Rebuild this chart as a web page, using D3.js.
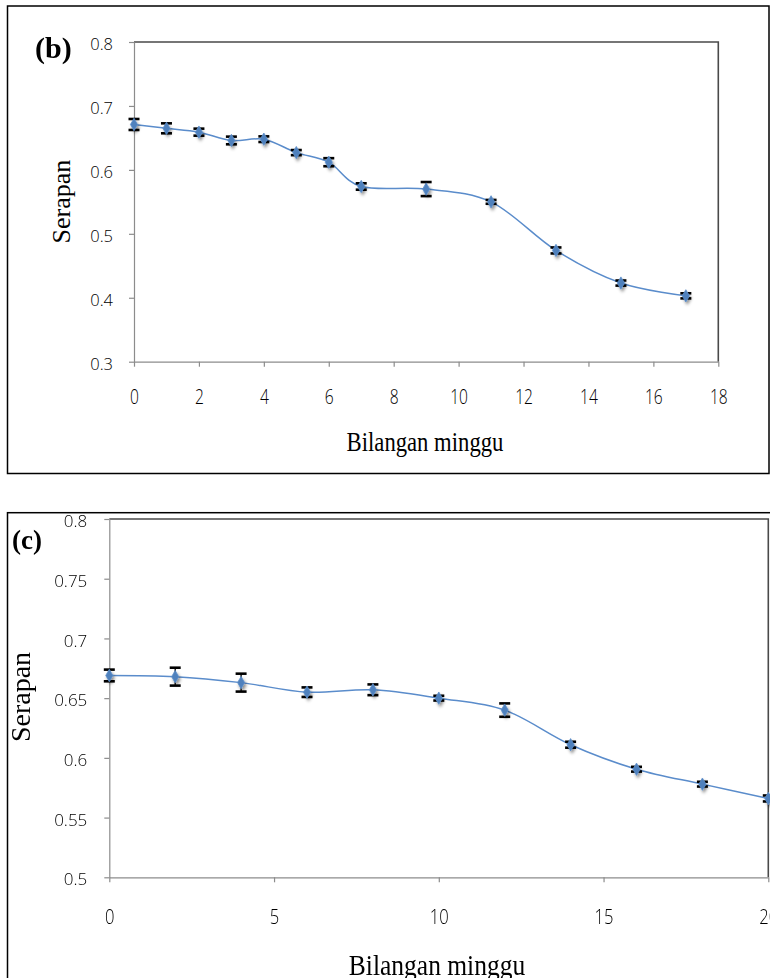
<!DOCTYPE html>
<html>
<head>
<meta charset="utf-8">
<script src="https://cdn.jsdelivr.net/npm/d3@7/dist/d3.min.js"></script>
<style>
  html, body { margin: 0; padding: 0; background: #fff; }
  svg { display: block; }
</style>
</head>
<body>
<svg id="fig" width="770" height="978"></svg>
<script>
// Panel (b): absorbance over weeks
const weeksB = [0, 1, 2, 3, 4, 5, 6, 7, 9, 11, 13, 15, 17];
const absB   = [0.671, 0.665, 0.659, 0.646, 0.648, 0.627, 0.612, 0.574, 0.570, 0.550, 0.474, 0.423, 0.403];
const errB   = [0.0086, 0.0078, 0.0055, 0.006, 0.0044, 0.004, 0.0063, 0.005, 0.011, 0.003, 0.0047, 0.004, 0.004];
const xTicksB = [0, 2, 4, 6, 8, 10, 12, 14, 16, 18];
const yTicksB = [0.3, 0.4, 0.5, 0.6, 0.7, 0.8];
const yLabelsB = ["0.3", "0.4", "0.5", "0.6", "0.7", "0.8"];

// Panel (c): absorbance over weeks
const weeksC = [0, 2, 4, 6, 8, 10, 12, 14, 16, 18, 20];
const absC   = [0.669, 0.668, 0.663, 0.655, 0.657, 0.650, 0.640, 0.611, 0.5905, 0.578, 0.566];
const errC   = [0.0049, 0.0075, 0.0075, 0.004, 0.0045, 0.002, 0.0056, 0.0025, 0.002, 0.002, 0.0025];
const xTicksC = [0, 5, 10, 15, 20];
const yTicksC = [0.5, 0.55, 0.6, 0.65, 0.7, 0.75, 0.8];
const yLabelsC = ["0.5", "0.55", "0.6", "0.65", "0.7", "0.75", "0.8"];

const xTitle = "Bilangan minggu";
const yTitle = "Serapan";

const svg = d3.select("#fig");
const defs = svg.append("defs");
const shadow = defs.append("filter").attr("id", "mshadow")
  .attr("x", "-100%").attr("y", "-100%").attr("width", "300%").attr("height", "300%");
shadow.append("feDropShadow")
  .attr("dx", 1.5).attr("dy", 2.5).attr("stdDeviation", 1.6)
  .attr("flood-color", "#000").attr("flood-opacity", 0.45);

const SERIES = "#4F81BD";

function panel(cfg) {
  const g = svg.append("g");

  // outer frame of the panel
  g.append("rect")
    .attr("x", cfg.box[0]).attr("y", cfg.box[1])
    .attr("width", cfg.box[2]).attr("height", cfg.box[3])
    .attr("fill", "none").attr("stroke", "#000").attr("stroke-width", 1.5);

  const x = d3.scaleLinear().domain(cfg.xDomain).range([cfg.left, cfg.right]);
  const y = d3.scaleLinear().domain(cfg.yDomain).range([cfg.bottom, cfg.top]);

  // plot area frame (top and right edges)
  g.append("path")
    .attr("d", `M${cfg.left},${cfg.top}H${cfg.right}V${cfg.bottom}`)
    .attr("fill", "none").attr("stroke", "#4a4a4a").attr("stroke-width", 1.6);

  // y axis
  const yAxis = g.append("g")
    .attr("transform", `translate(${cfg.left},0)`)
    .call(d3.axisLeft(y).tickValues(cfg.yTicks)
      .tickFormat((d, i) => cfg.yLabels[i]).tickSize(5).tickSizeOuter(0).tickPadding(cfg.yPad));
  yAxis.select(".domain").attr("stroke", "#8c8c8c").attr("stroke-width", 1.2);
  yAxis.selectAll(".tick line").attr("stroke", "#8c8c8c").attr("stroke-width", 1.2);
  yAxis.selectAll(".tick text")
    .attr("font-family", "'Open Sans', 'DejaVu Sans', sans-serif")
    .attr("font-weight", 300)
    .attr("font-size", cfg.yFont).attr("fill", "#000")
    .attr("dy", "0.45em");

  // x axis
  const xAxis = g.append("g")
    .attr("transform", `translate(0,${cfg.bottom})`)
    .call(d3.axisBottom(x).tickValues(cfg.xTicks)
      .tickFormat(d3.format("d")).tickSize(5).tickSizeOuter(0));
  xAxis.select(".domain").attr("stroke", "#8c8c8c").attr("stroke-width", 1.2);
  xAxis.selectAll(".tick line").attr("stroke", "#8c8c8c").attr("stroke-width", 1.2);
  xAxis.selectAll(".tick text")
    .attr("font-family", "'Open Sans', 'DejaVu Sans', sans-serif")
    .attr("font-weight", 300)
    .attr("font-size", cfg.xFont).attr("fill", "#000")
    .attr("y", cfg.xLabelOffset).attr("dy", "0.36em")
    .attr("transform", `scale(${cfg.xScaleX},1)`);

  // smoothed series line
  const pts = cfg.weeks.map((w, i) => [x(w), y(cfg.values[i])]);
  g.append("path")
    .attr("d", d3.line().curve(d3.curveCardinal.tension(0))(pts))
    .attr("fill", "none").attr("stroke", "#5a8ccb").attr("stroke-width", 1.5);

  // error bars
  const eb = g.append("g");
  cfg.weeks.forEach((w, i) => {
    const cx = x(w);
    const y1 = y(cfg.values[i] + cfg.errs[i]);
    const y2 = y(cfg.values[i] - cfg.errs[i]);
    eb.append("line").attr("x1", cx).attr("x2", cx).attr("y1", y1).attr("y2", y2)
      .attr("stroke", "#000").attr("stroke-width", 1.3);
    [y1, y2].forEach(yy => {
      eb.append("line").attr("x1", cx - 5.5).attr("x2", cx + 5.5)
        .attr("y1", yy).attr("y2", yy)
        .attr("stroke", "#000").attr("stroke-width", 2.6);
    });
  });

  // diamond markers
  g.append("g").attr("filter", "url(#mshadow)")
    .selectAll("path").data(pts).join("path")
    .attr("transform", d => `translate(${d[0]},${d[1]})`)
    .attr("d", d3.symbol(d3.symbolDiamond, 44)())
    .attr("fill", SERIES).attr("stroke", "#5f90cc").attr("stroke-width", 0.8);

  // axis titles
  g.append("text")
    .attr("transform", `translate(${cfg.xTitle[0]},${cfg.xTitle[1]}) scale(${cfg.xTitle[3]},1)`)
    .attr("text-anchor", "middle")
    .attr("font-family", "'Liberation Serif', 'Times New Roman', serif")
    .attr("font-size", cfg.xTitle[2]).attr("fill", "#000")
    .text(xTitle);

  g.append("text")
    .attr("transform", `translate(${cfg.yTitle[0]},${cfg.yTitle[1]}) rotate(-90)`)
    .attr("text-anchor", "middle")
    .attr("font-family", "'Liberation Serif', 'Times New Roman', serif")
    .attr("font-size", cfg.yTitle[2]).attr("fill", "#000")
    .text(yTitle);

  // panel letter
  g.append("text")
    .attr("x", cfg.tag[0]).attr("y", cfg.tag[1])
    .attr("font-family", "'Liberation Serif', 'Times New Roman', serif")
    .attr("font-weight", "bold")
    .attr("font-size", cfg.tag[2]).attr("fill", "#000")
    .text(cfg.tag[3]);
}

panel({
  box: [7.5, 6, 761.5, 467.5],
  left: 134, right: 718.3, top: 42, bottom: 361.7,
  xDomain: [0, 18], yDomain: [0.3, 0.8],
  xTicks: xTicksB, yTicks: yTicksB, yLabels: yLabelsB,
  yPad: 16, yFont: 16.5, xFont: 20, xScaleX: 0.78, xLabelOffset: 35,
  weeks: weeksB, values: absB, errs: errB,
  xTitle: [425, 451, 27, 0.84],
  yTitle: [70, 201.5, 26],
  tag: [35, 57.5, 30, "(b)"]
});

panel({
  box: [7.5, 512.7, 780, 480],
  left: 109.3, right: 768.3, top: 519, bottom: 877.3,
  xDomain: [0, 20], yDomain: [0.5, 0.8],
  xTicks: xTicksC, yTicks: yTicksC, yLabels: yLabelsC,
  yPad: 17, yFont: 17, xFont: 21, xScaleX: 0.79, xLabelOffset: 39.4,
  weeks: weeksC, values: absC, errs: errC,
  xTitle: [437, 975, 30, 0.85],
  yTitle: [30, 697, 28],
  tag: [12, 549, 27, "(c)"]
});
</script>
</body>
</html>
